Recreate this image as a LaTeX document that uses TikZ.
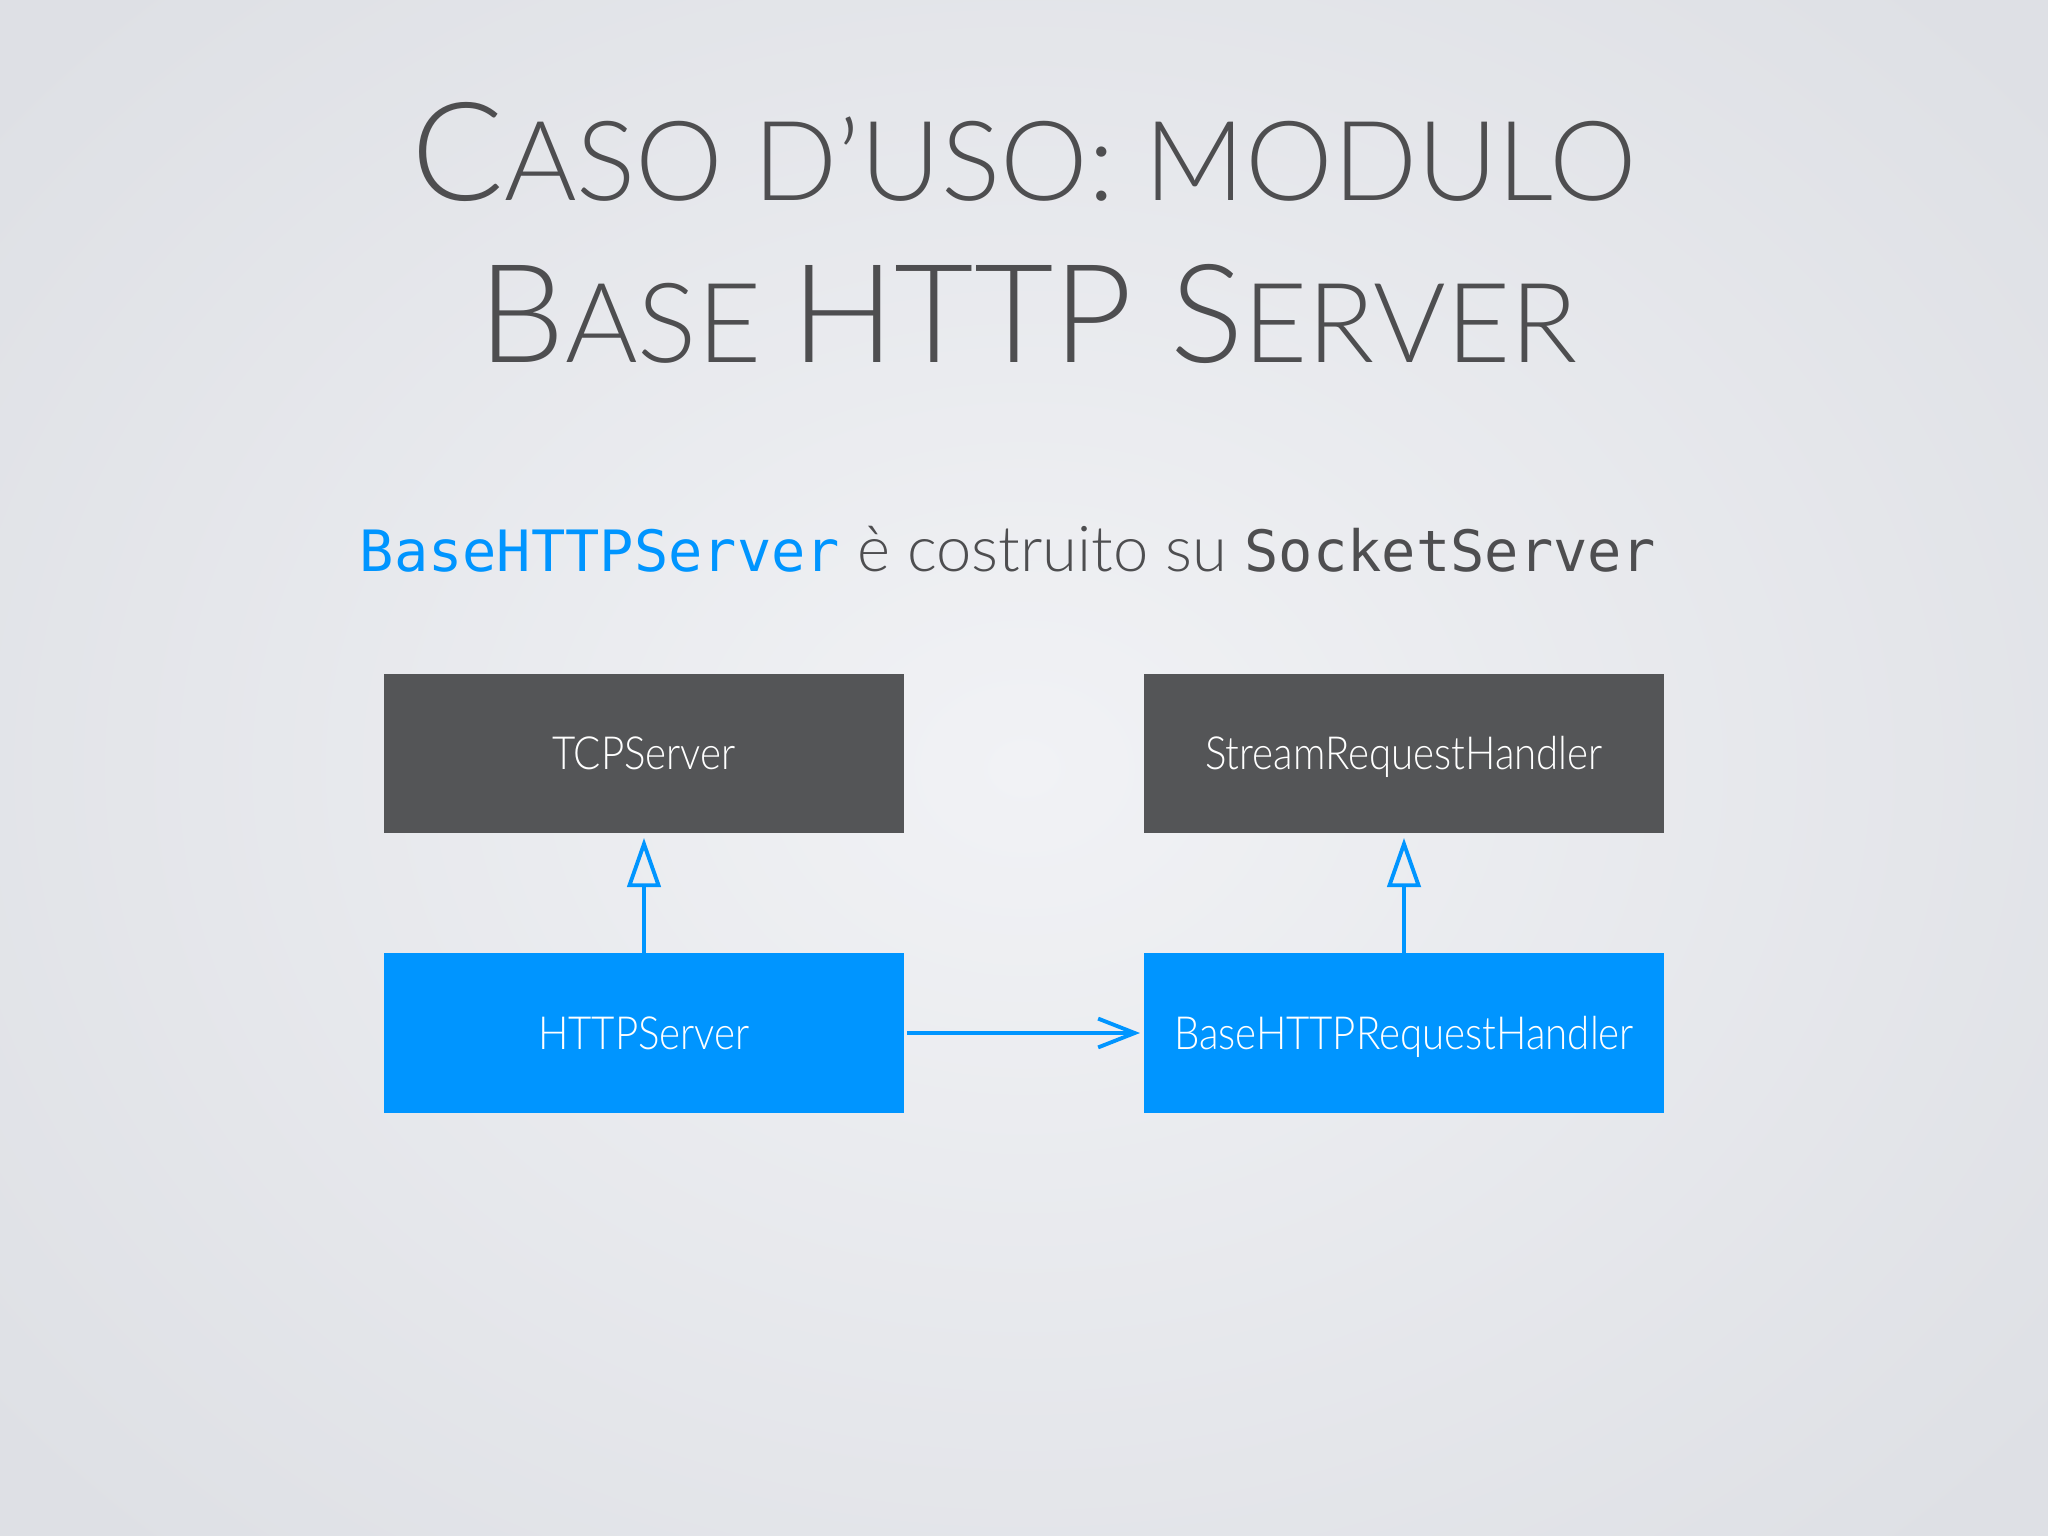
\documentclass[tikz,border=0pt]{standalone}
\usepackage{fontspec}
\usetikzlibrary{arrows.meta}
\IfFontExistsTF{Lato Light}{\setmainfont{Lato Light}\newfontfamily\boxfont[FakeStretch=0.88]{Lato Light}}{\setmainfont{Lato}\newfontfamily\boxfont[FakeStretch=0.88]{Lato}}
\setmonofont{DejaVu Sans Mono}
\definecolor{slidemid}{RGB}{241,242,245}
\definecolor{slideedge}{RGB}{222,224,229}
\definecolor{boxgray}{RGB}{84,85,87}
\definecolor{boxblue}{RGB}{0,149,255}
\definecolor{titlegray}{RGB}{78,78,80}

\begin{document}
\begin{tikzpicture}[x=0.01cm, y=0.01cm]
    \tikzstyle{every node}+=[inner sep=0pt]
    \tikzstyle{classbox}=[minimum width=5.2cm, minimum height=1.59cm, text height=9.3pt, text depth=0pt, text=white, font=\boxfont\fontsize{13}{16}\selectfont]
    \tikzstyle{inherits}=[boxblue, line width=1.1pt, -{Triangle[open, length=14pt, width=9.5pt]}, shorten >=1.2pt]
    \tikzstyle{uses}=[boxblue, line width=1.1pt, -{Straight Barb[length=10.4pt, width=8.2pt]}, shorten <=0.6pt, shorten >=0.9pt]
    \useasboundingbox (0,0) rectangle (2048,-1536);
    \shade [inner color=slidemid, outer color=slideedge] (-300,300) rectangle (2348,-1836);
    % title
    \node [anchor=base, text=titlegray] (title1) at (1024,-200) {\fontsize{39}{40}\selectfont C\fontsize{31.5}{32}\selectfont ASO D’USO: MODULO};
    \node [anchor=base, text=titlegray] (title2) at (1028,-362) {\fontsize{39}{40}\selectfont B\fontsize{31.5}{32}\selectfont ASE \fontsize{39}{40}\selectfont HTTP S\fontsize{31.5}{32}\selectfont ERVER};
    \node [anchor=base, text=titlegray, font=\fontsize{18}{20}\selectfont] (subtitle) at (1008,-571) {{\fontsize{16.2}{18}\ttfamily\color{boxblue}BaseHTTPServer} è costruito su {\fontsize{16.2}{18}\ttfamily SocketServer}};
    % classes
    \node [classbox, fill=boxgray] (tcp) at (644,-753.5) {TCPServer};
    \node [classbox, fill=boxgray] (stream) at (1404,-753.5) {StreamRequestHandler};
    \node [classbox, fill=boxblue] (http) at (644,-1033) {HTTPServer};
    \node [classbox, fill=boxblue] (handler) at (1404,-1033) {BaseHTTPRequestHandler};
    % connectors
    \draw [inherits] (http) -- (tcp);
    \draw [inherits] (handler) -- (stream);
    \draw [uses] (http) -- (handler);
\end{tikzpicture}
\end{document}
